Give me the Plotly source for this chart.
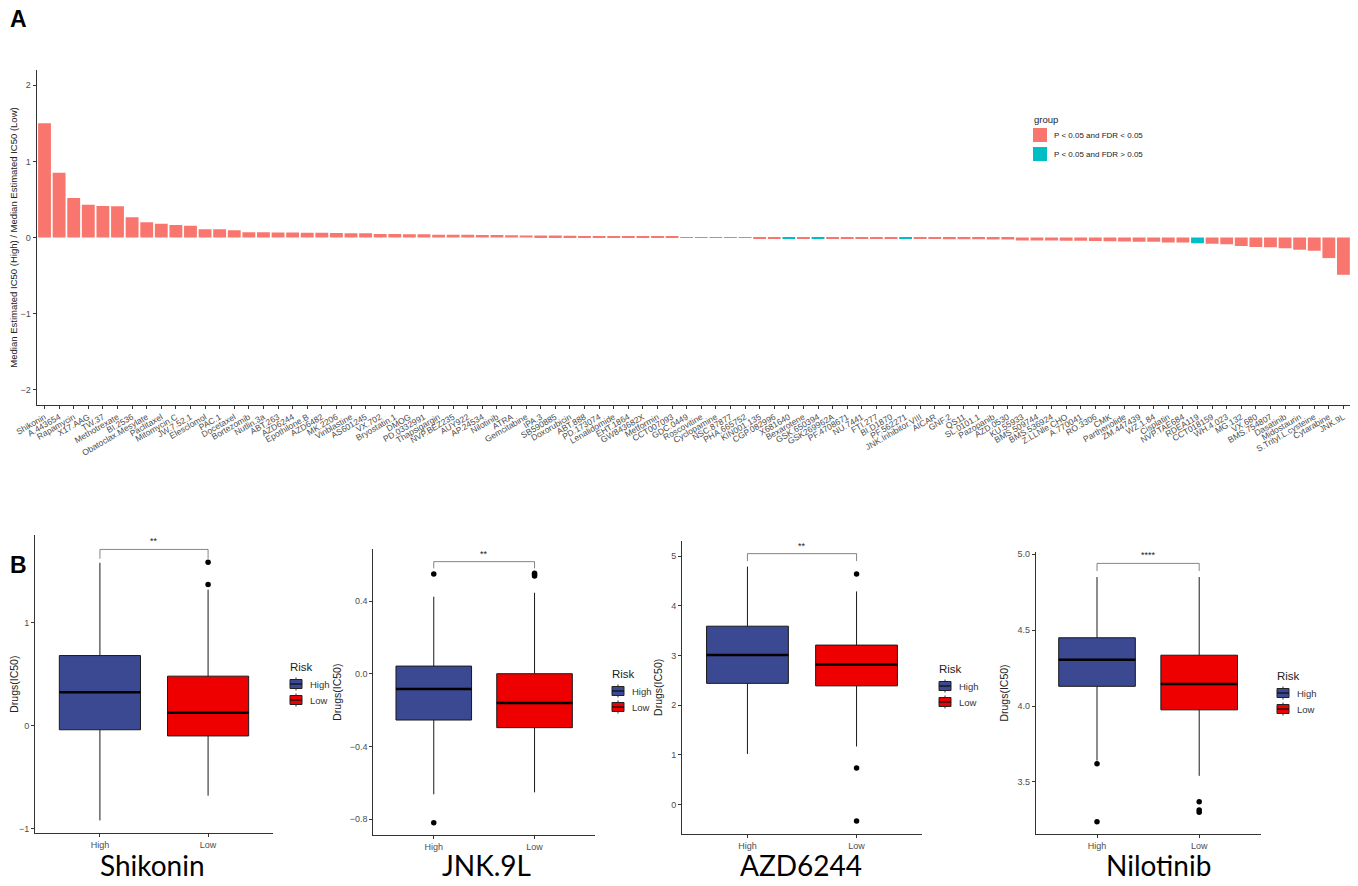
# -*- coding: utf-8 -*-
"""Figura de sensibilidad a fármacos: razón de IC50 (A) y boxplots por riesgo (B)."""

import plotly.graph_objects as go

W, H = 1358, 886
# la página añade 8 px de margen al body: se descuentan del tamaño de la figura
PAGE_MARGIN = 8

# Panel A: razón de medianas de IC50 estimado (High / Low)
drugs = [
    "Shikonin", "A.443654", "Rapamycin", "X17.AAG", "TW.37", "Methotrexate",
    "BI.2536", "Obatoclax.Mesylate", "Paclitaxel", "Mitomycin.C", "JW.7.52.1",
    "Elesclomol", "PAC.1", "Docetaxel", "Bortezomib", "Nutlin.3a", "ABT.263",
    "AZD6244", "Epothilone.B", "AZD6482", "MK.2206", "Vinblastine", "AS601245",
    "VX.702", "Bryostatin.1", "DMOG", "PD.0332991", "Thapsigargin", "NVP.BEZ235",
    "AUY922", "AP.24534", "Nilotinib", "ATRA", "Gemcitabine", "IPA.3",
    "SB590885", "Doxorubicin", "ABT.888", "PD.173074", "Lenalidomide",
    "EHT.1864", "GW843682X", "Metformin", "CCT007093", "GDC.0449",
    "Roscovitine", "Cyclopamine", "NSC.87877", "PHA.665752", "KIN001.135",
    "CGP.082996", "X681640", "Bexarotene", "GSK.650394", "GSK269962A",
    "PF.4708671", "NU.7441", "FTI.277", "BI.D1870", "PF.562271",
    "JNK.Inhibitor.VIII", "AICAR", "GNF.2", "QS11", "SL.0101.1", "Pazopanib",
    "AZD.0530", "KU.55933", "BMS.509744", "BMS.536924", "Z.LLNle.CHO",
    "A.770041", "RO.3306", "CMK", "Parthenolide", "ZM.447439", "WZ.1.84",
    "Cisplatin", "NVP.TAE684", "RDEA119", "CCT018159", "WH.4.023", "MG.132",
    "VX.680", "BMS.754807", "Dasatinib", "Midostaurin", "S.Trityl.L.cysteine",
    "Cytarabine", "JNK.9L",
]
ratio = [
    1.50, 0.85, 0.52, 0.43, 0.415, 0.41, 0.265, 0.20, 0.18, 0.165,
    0.155, 0.11, 0.11, 0.095, 0.07, 0.07, 0.066, 0.066, 0.064, 0.061,
    0.058, 0.056, 0.055, 0.046, 0.045, 0.044, 0.043, 0.037, 0.036, 0.035,
    0.034, 0.033, 0.028, 0.027, 0.026, 0.025, 0.022, 0.021, 0.019, 0.018,
    0.017, 0.015, 0.010, 0.008, 0.005, 0.001, -0.003, -0.005, -0.006, -0.007,
    -0.008, -0.009, -0.010, -0.010, -0.011, -0.012, -0.013, -0.013, -0.014, -0.015,
    -0.020, -0.021, -0.022, -0.023, -0.024, -0.025, -0.026, -0.038, -0.039, -0.040,
    -0.043, -0.044, -0.047, -0.048, -0.052, -0.056, -0.057, -0.065, -0.066, -0.075,
    -0.083, -0.088, -0.11, -0.125, -0.127, -0.14, -0.16, -0.175, -0.27, -0.49,
]
fdr_above = ["X681640", "GSK.650394", "PF.562271", "RDEA119"]
group_names = ["P < 0.05 and FDR < 0.05", "P < 0.05 and FDR > 0.05"]

# Panel B: estadísticos de los boxplots (High, Low)
box_drugs = ["Shikonin", "JNK.9L", "AZD6244", "Nilotinib"]
risk_groups = ["High", "Low"]
q1 = [[-0.04, -0.10], [-0.255, -0.297], [2.44, 2.39], [4.13, 3.975]]
median = [[0.325, 0.126], [-0.084, -0.161], [3.01, 2.82], [4.305, 4.145]]
q3 = [[0.68, 0.48], [0.042, 0.0], [3.59, 3.21], [4.45, 4.335]]
lower_whisker = [[-0.92, -0.68], [-0.664, -0.653], [1.02, 1.17], [3.64, 3.54]]
upper_whisker = [[1.58, 1.32], [0.424, 0.446], [4.79, 4.29], [4.85, 4.85]]
outliers_high = [[], [0.549, -0.82], [], [3.62, 3.237]]
outliers_low = [[1.585, 1.37], [0.553, 0.545, 0.538], [4.64, 0.74, -0.33], [3.37, 3.315, 3.30]]
sig_labels = ["**", "**", "**", "****"]
sig_top = [1.71, 0.617, 5.05, 4.94]
sig_drop = [1.62, 0.58, 4.90, 4.89]
y_ticks = [[-1, 0, 1], [-0.8, -0.4, 0.0, 0.4], [0, 1, 2, 3, 4, 5], [3.5, 4.0, 4.5, 5.0]]

SALMON, TEAL = "#F8766D", "#00BFC4"
RISK_COLORS = ["#3B4992", "#EE0000"]
TICK_GREY = "#4D4D4D"
BASE_FONT = "Liberation Sans, Arial, sans-serif"

FIG_W, FIG_H = W - 2 * PAGE_MARGIN, H - 2 * PAGE_MARGIN


def px_x(px):
    return (px - PAGE_MARGIN) / FIG_W


def px_y(py):
    return 1 - (py - PAGE_MARGIN) / FIG_H


def paper_text(x, y, text, size, color="#222", anchor="left", family=BASE_FONT):
    return dict(x=px_x(x), y=px_y(y), xref="paper", yref="paper", text=text,
                showarrow=False, xanchor=anchor, yanchor="middle",
                font=dict(size=size, color=color, family=family))


def paper_rect(x0, y0, x1, y1, fill, line_color=None, width=0):
    return dict(type="rect", xref="paper", yref="paper",
                x0=px_x(x0), x1=px_x(x1), y0=px_y(y1), y1=px_y(y0),
                fillcolor=fill, line=dict(color=line_color or fill, width=width))


def paper_line(x0, y0, x1, y1, color, width):
    return dict(type="line", xref="paper", yref="paper",
                x0=px_x(x0), x1=px_x(x1), y0=px_y(y0), y1=px_y(y1),
                line=dict(color=color, width=width))


def build_bar_panel(fig, shapes, annotations):
    colors = [SALMON, TEAL]
    for gi, name in enumerate(group_names):
        sel = [(d, r) for d, r in zip(drugs, ratio) if (d in fdr_above) == bool(gi)]
        fig.add_trace(go.Bar(
            x=[d for d, _ in sel], y=[r for _, r in sel], name=name,
            marker=dict(color=colors[gi], line=dict(width=0)),
            xaxis="x", yaxis="y", showlegend=False,
        ))
        # leyenda manual, estilo ggplot
        yc = 135 + gi * 19
        shapes.append(paper_rect(1033, yc - 7, 1047, yc + 7, colors[gi]))
        annotations.append(paper_text(1052, yc, name, 8))
    annotations.append(paper_text(1032, 119, "group", 9.5))

    fig.update_layout(
        xaxis=dict(
            domain=[px_x(36.5), px_x(1350)], anchor="y", automargin=False,
            categoryorder="array", categoryarray=drugs, range=[-0.55, len(drugs) - 0.55],
            showline=True, linecolor="#333", linewidth=1, ticks="outside", ticklen=3,
            tickcolor="#333", tickangle=-30, showgrid=False,
            tickfont=dict(size=8.5, color=TICK_GREY, family=BASE_FONT),
        ),
        yaxis=dict(
            domain=[px_y(405), px_y(70)], anchor="x", range=[-2.2, 2.2], automargin=False,
            tickvals=[-2, -1, 0, 1, 2], showline=True, linecolor="#333", linewidth=1,
            ticks="outside", ticklen=3, tickcolor="#333", showgrid=False, zeroline=False,
            tickfont=dict(size=9, color=TICK_GREY, family=BASE_FONT),
            title=dict(text="Median Estimated IC50 (High) / Median Estimated IC50 (Low)",
                       font=dict(size=9.5, color="#222", family=BASE_FONT), standoff=6),
        ),
    )


def build_box_panels(fig, shapes, annotations):
    # posiciones en píxeles de cada panel (izq, der, arriba, abajo), rango y, leyenda
    panels = [
        (35, 273, 535, 833.3, [-1.045, 1.85], (288, 667), 152),
        (373.3, 595, 549.3, 835, [-0.888, 0.685], (610, 674), 487),
        (682, 922, 540.7, 834, [-0.59, 5.31], (937, 669), 801),
        (1035.7, 1260.5, 551.7, 834.3, [3.155, 5.017], (1275, 676), 1158),
    ]
    for i, (x0, x1, y0, y1, yr, leg, name_x) in enumerate(panels):
        n = i + 2
        xa, ya = f"x{n}", f"y{n}"
        for k, risk in enumerate(risk_groups):
            fig.add_trace(go.Box(
                x=[k], q1=[q1[i][k]], median=[median[i][k]], q3=[q3[i][k]],
                lowerfence=[lower_whisker[i][k]], upperfence=[upper_whisker[i][k]],
                name=risk, width=0.75, whiskerwidth=0, boxpoints=False,
                fillcolor=RISK_COLORS[k], line=dict(color="#1a1a1a", width=1),
                xaxis=xa, yaxis=ya, showlegend=False,
            ))
            # línea de la mediana más gruesa, como en ggplot
            shapes.append(dict(type="line", xref=xa, yref=ya, x0=k - 0.375, x1=k + 0.375,
                               y0=median[i][k], y1=median[i][k],
                               line=dict(color="black", width=2.5)))
            # clave de leyenda "Risk"
            lx, ly = leg[0] + 2, leg[1] + 17 + k * 16
            shapes.append(paper_line(lx + 6, ly - 6.5, lx + 6, ly + 6.5, "#333", 1))
            shapes.append(paper_rect(lx, ly - 4.5, lx + 12, ly + 4.5, RISK_COLORS[k], "#222", 1))
            shapes.append(paper_line(lx, ly, lx + 12, ly, "#111", 1.3))
            annotations.append(paper_text(lx + 18, ly, risk, 9.5, color="#333"))
        annotations.append(paper_text(leg[0], leg[1], "Risk", 11.5))

        pts = [outliers_high[i], outliers_low[i]]
        for k in range(2):
            if pts[k]:
                fig.add_trace(go.Scatter(
                    x=[k] * len(pts[k]), y=pts[k], mode="markers",
                    marker=dict(color="black", size=5.5), showlegend=False,
                    xaxis=xa, yaxis=ya, hoverinfo="y",
                ))
        # corchete de significancia
        shapes.append(dict(
            type="path", xref=xa, yref=ya,
            path=f"M 0,{sig_drop[i]} L 0,{sig_top[i]} L 1,{sig_top[i]} L 1,{sig_drop[i]}",
            line=dict(color="#666", width=0.8),
        ))
        annotations.append(dict(
            x=0.5, y=sig_top[i], xref=xa, yref=ya, text=sig_labels[i], showarrow=False,
            yanchor="bottom", yshift=1, font=dict(size=9, color="#222", family=BASE_FONT),
        ))
        annotations.append(paper_text(name_x, 865, box_drugs[i], 28, color="black",
                                      anchor="center", family="Lato, sans-serif"))
        fig.update_layout({
            f"xaxis{n}": dict(
                domain=[px_x(x0), px_x(x1)], anchor=ya, range=[-0.6, 1.6], automargin=False,
                tickvals=[0, 1], ticktext=risk_groups, showline=True, linecolor="#333",
                linewidth=1, ticks="outside", ticklen=3, tickcolor="#333", showgrid=False,
                zeroline=False, tickfont=dict(size=9, color=TICK_GREY, family=BASE_FONT),
            ),
            f"yaxis{n}": dict(
                domain=[px_y(y1), px_y(y0)], anchor=xa, range=yr, tickvals=y_ticks[i],
                tickformat=".1f" if i in (1, 3) else "d", automargin=False,
                showline=True, linecolor="#333", linewidth=1, ticks="outside", ticklen=3,
                tickcolor="#333", showgrid=False, zeroline=False,
                tickfont=dict(size=9, color=TICK_GREY, family=BASE_FONT),
                title=dict(text="Drugs(IC50)", standoff=6,
                           font=dict(size=10.5, color="#222", family=BASE_FONT)),
            ),
        })


def main():
    fig = go.Figure()
    shapes, annotations = [], []
    build_bar_panel(fig, shapes, annotations)
    build_box_panels(fig, shapes, annotations)

    for letter, py in (("A", 19), ("B", 565)):
        annotations.append(paper_text(8, py, f"<b>{letter}</b>", 23, color="black",
                                      family="Liberation Sans, Arial"))

    fig.update_layout(
        width=FIG_W, height=FIG_H, margin=dict(l=0, r=0, t=0, b=0, autoexpand=False),
        paper_bgcolor="white", plot_bgcolor="white",
        barmode="overlay", bargap=0.12, showlegend=False,
        font=dict(family=BASE_FONT),
        shapes=shapes, annotations=annotations,
    )
    fig.write_html("out.html")


if __name__ == "__main__":
    main()
